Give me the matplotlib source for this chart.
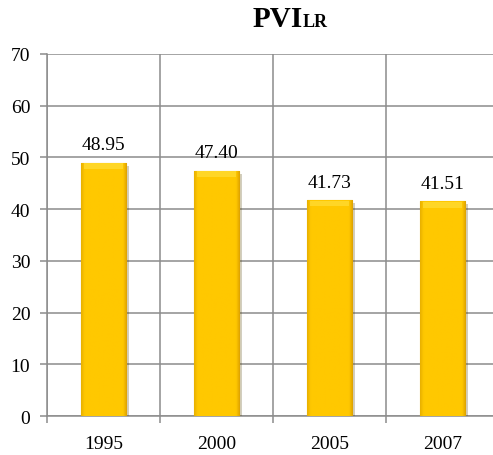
import matplotlib
matplotlib.use("Agg")
import matplotlib.pyplot as plt
import matplotlib.patheffects as pe
from matplotlib.colors import LinearSegmentedColormap
import numpy as np

years = ["1995", "2000", "2005", "2007"]
values = [48.95, 47.40, 41.73, 41.51]
labels = ["48.95", "47.40", "41.73", "41.51"]
yticks = [0, 10, 20, 30, 40, 50, 60, 70]

plt.rcParams["font.family"] = ["Liberation Serif", "DejaVu Serif"]
grid_col = "#8c8c8c"

fig = plt.figure(figsize=(4.93, 4.56), dpi=100)
ax = fig.add_axes([0.0953, 0.0855, 0.917, 0.7939])

x = np.arange(len(years))
bw = 0.4
bars = ax.bar(x, values, width=bw, color="#FFC800", edgecolor="#DDA500",
              linewidth=0.8, zorder=3,
              path_effects=[pe.SimplePatchShadow(offset=(2, -2), alpha=0.25),
                            pe.Normal()])

# flat face with slightly darker side edges (bevel look)
cmap = LinearSegmentedColormap.from_list(
    "gold", [(0.0, "#E8B000"), (0.08, "#FFC800"), (0.92, "#FFC800"),
             (1.0, "#DDA200")])
grad = np.linspace(0, 1, 128)[None, :]
for b in bars:
    bx, by = b.get_x(), b.get_y()
    w, h = b.get_width(), b.get_height()
    im = ax.imshow(grad, cmap=cmap, extent=(bx, bx + w, by, by + h),
                   aspect="auto", zorder=3.5, interpolation="bilinear")
    im.set_clip_path(b)
    # lighter top strip
    ax.fill_between([bx + w * 0.07, bx + w * 0.93], by + h - 1.2, by + h - 0.1,
                    color="#FFDA30", alpha=0.8, zorder=3.6, linewidth=0)

# value labels above bars
for xi, v, lab in zip(x, values, labels):
    ax.annotate(lab, (xi, v), xytext=(0, 13), textcoords="offset points",
                ha="center", va="center", fontsize=14, color="black")

ax.set_xlim(-0.5, 3.5)
ax.set_ylim(0, 70)
ax.set_yticks(yticks)
ax.set_xticks(x)
ax.set_xticklabels(years)
ax.set_xticks(np.arange(-0.5, 4.0, 1.0), minor=True)

ax.tick_params(axis="x", which="major", length=0, pad=14, labelsize=14)
ax.tick_params(axis="x", which="minor", length=5, width=1.1, color=grid_col,
               direction="out")
ax.tick_params(axis="y", length=5, width=1.1, color=grid_col, labelsize=14,
               pad=7)

ax.grid(axis="y", color=grid_col, linewidth=1.1, zorder=0)
ax.grid(axis="x", which="minor", color=grid_col, linewidth=1.1, zorder=0)
ax.set_axisbelow(True)

for s in ["top", "right"]:
    ax.spines[s].set_visible(False)
for s in ["left", "bottom"]:
    ax.spines[s].set_color(grid_col)
    ax.spines[s].set_linewidth(1.1)

# title: PVI with LR in smaller caps
fig.text(303 / 493, 1 - 27 / 456, "PVI", ha="right", va="baseline",
         fontsize=21, fontweight="bold")
fig.text(303 / 493, 1 - 27 / 456, "LR", ha="left", va="baseline",
         fontsize=13, fontweight="bold")

fig.savefig("out.png", dpi=100)
